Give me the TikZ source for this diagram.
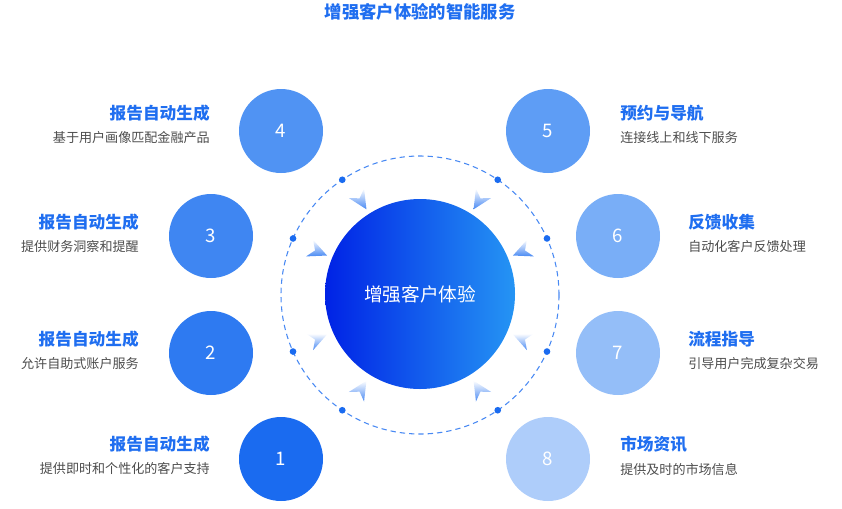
\documentclass[tikz,border=0pt]{standalone}
\usepackage{fontspec}
\setmainfont{Noto Sans CJK SC}
\begin{document}
\begin{tikzpicture}[x=0.75pt,y=-0.75pt,
  num/.style={circle,minimum size=63pt,inner sep=0pt,text=white,font=\fontsize{14}{16}\selectfont},
  ttl/.style={text=blue!70!cyan!80!black,font=\fontsize{12.5}{14}\selectfont\bfseries,inner sep=0pt},
  dsc/.style={text=black!70,font=\fontsize{9.8}{12}\selectfont,inner sep=0pt},
  dot/.style={circle,fill=c1,inner sep=0pt,minimum size=5pt}]
\definecolor{c1}{HTML}{1A6BF0}
\definecolor{c2}{HTML}{2E7AF1}
\definecolor{c3}{HTML}{3F86F2}
\definecolor{c4}{HTML}{5093F3}
\definecolor{c5}{HTML}{5E9DF5}
\definecolor{c6}{HTML}{79AEF7}
\definecolor{c7}{HTML}{94BEF8}
\definecolor{c8}{HTML}{AECDFA}
\definecolor{tb}{HTML}{1F6EF0}
\useasboundingbox (0,0) rectangle (842,508);
\node[text=tb,font=\fontsize{13}{15}\selectfont\bfseries] (title) at (420,12) {增强客户体验的智能服务};
\draw[c1!80,dashed,dash pattern=on 4pt off 3pt,line width=0.8pt] (420,295) circle[radius=139];
\shade[left color=blue!85!cyan!90!black,right color=c2!80!cyan] (420,294) circle[radius=95];
\node[text=white,font=\fontsize{14}{16}\selectfont] (center) at (420,294) {增强客户体验};
\foreach \a in {124,156,204,236,-56,-24,24,56}{
  \node[dot] at ({420+139*cos(\a)},{295-139*sin(\a)}) {};
}
\foreach \a in {122,157,203,238,-58,-23,23,58}{
  \shade[shading angle=\a-90,top color=white,bottom color=c1!80]
    ({420+101*cos(\a)},{295-101*sin(\a)}) --
    ({420+120*cos(\a)+9*cos(\a+90)},{295-120*sin(\a)-9*sin(\a+90)}) --
    ({420+114*cos(\a)},{295-114*sin(\a)}) --
    ({420+120*cos(\a)-9*cos(\a+90)},{295-120*sin(\a)+9*sin(\a+90)}) -- cycle;
}
\node[num,fill=c4] (n4) at (281,131) {4};
\node[num,fill=c3] (n3) at (211,236) {3};
\node[num,fill=c2] (n2) at (211,353) {2};
\node[num,fill=c1] (n1) at (281,459) {1};
\node[num,fill=c5] (n5) at (548,131) {5};
\node[num,fill=c6] (n6) at (618,236) {6};
\node[num,fill=c7] (n7) at (618,353) {7};
\node[num,fill=c8] (n8) at (548,459) {8};
\node[ttl,text=tb,anchor=east] (t4) at (210,113) {报告自动生成};
\node[dsc,anchor=east] (d4) at (210,138) {基于用户画像匹配金融产品};
\node[ttl,text=tb,anchor=east] (t3) at (139,222) {报告自动生成};
\node[dsc,anchor=east] (d3) at (139,247) {提供财务洞察和提醒};
\node[ttl,text=tb,anchor=east] (t2) at (139,339) {报告自动生成};
\node[dsc,anchor=east] (d2) at (139,364) {允许自助式账户服务};
\node[ttl,text=tb,anchor=east] (t1) at (210,444) {报告自动生成};
\node[dsc,anchor=east] (d1) at (210,469) {提供即时和个性化的客户支持};
\node[ttl,text=tb,anchor=west] (t5) at (620,113) {预约与导航};
\node[dsc,anchor=west] (d5) at (620,138) {连接线上和线下服务};
\node[ttl,text=tb,anchor=west] (t6) at (688,222) {反馈收集};
\node[dsc,anchor=west] (d6) at (688,247) {自动化客户反馈处理};
\node[ttl,text=tb,anchor=west] (t7) at (688,339) {流程指导};
\node[dsc,anchor=west] (d7) at (688,364) {引导用户完成复杂交易};
\node[ttl,text=tb,anchor=west] (t8) at (620,444) {市场资讯};
\node[dsc,anchor=west] (d8) at (620,469) {提供及时的市场信息};
\end{tikzpicture}
\end{document}
